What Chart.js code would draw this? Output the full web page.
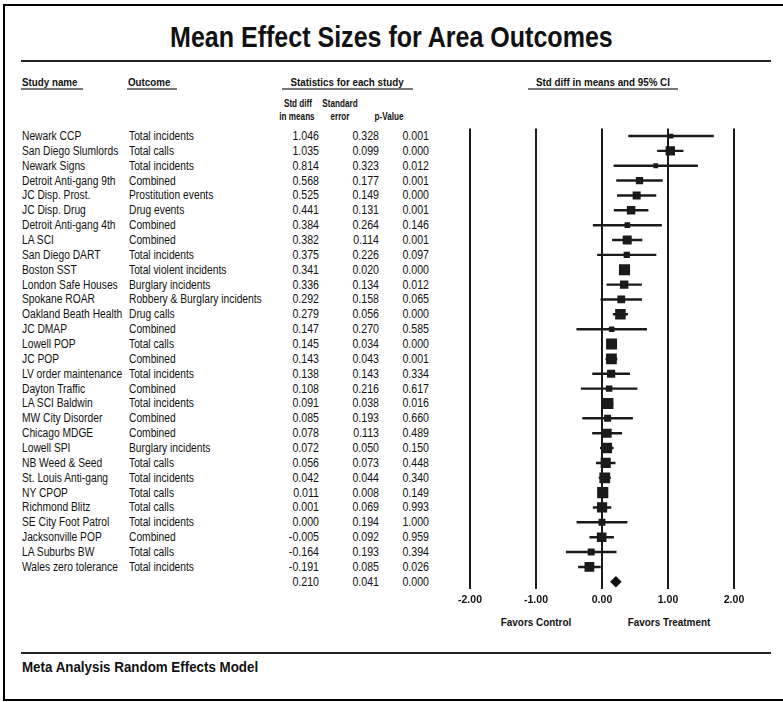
<!DOCTYPE html>
<html>
<head>
<meta charset="utf-8">
<title>Mean Effect Sizes for Area Outcomes</title>
<script src="https://cdn.jsdelivr.net/npm/chart.js@4.4.1/dist/chart.umd.min.js"></script>
<style>
    body { margin: 0; background: #fff; }
    #page {
        position: relative; width: 783px; height: 702px; overflow: hidden;
        font-family: "Liberation Sans Narrow", "Arial Narrow", "Liberation Sans", Arial, sans-serif;
        color: #111;
    }
    #frame {
        position: absolute; left: 3px; top: 4px; width: 820px; height: 697px;
        border: 2px solid #000; box-sizing: border-box;
    }
    .rule { position: absolute; left: 21px; width: 750px; height: 2px; background: #222; }
    .uline { position: absolute; height: 1.5px; background: #777; }
    .txt { position: absolute; white-space: nowrap; line-height: 14px; transform-origin: left center; }
    .hd { font-weight: bold; font-size: 11px; transform: scaleX(0.89); }
    .sub { font-weight: bold; font-size: 11px; text-align: center; width: 60px; transform: scaleX(0.74); transform-origin: center center; }
    .cell { font-size: 12.5px; transform: scaleX(0.82); }
    .num { font-size: 12.5px; text-align: right; width: 50px; transform: scaleX(0.85); transform-origin: right center; }
    .mid { text-align: center; transform-origin: center center; }
    #title {
        position: absolute; left: 0; width: 783px; top: 20px; text-align: center;
        font-size: 30px; font-weight: bold; line-height: 34px;
        transform: scaleX(0.834); transform-origin: 391px center;
    }
    #chart { position: absolute; left: 0; top: 0; }
</style>
</head>
<body>
<div id="page">
    <div id="frame"></div>
    <div id="title">Mean Effect Sizes for Area Outcomes</div>
    <div class="rule" style="top:60px"></div>

    <div class="txt hd" style="left:22px; top:75px">Study name</div>
    <div class="uline" style="left:21px; top:88px; width:62px"></div>
    <div class="txt hd" style="left:128px; top:75px">Outcome</div>
    <div class="uline" style="left:127px; top:88px; width:50px"></div>
    <div class="txt hd mid" style="left:247px; top:75px; width:200px">Statistics for each study</div>
    <div class="uline" style="left:282px; top:88px; width:131px"></div>
    <div class="txt hd mid" style="left:503px; top:75px; width:200px">Std diff in means and 95% CI</div>
    <div class="uline" style="left:528px; top:88px; width:150px"></div>

    <div class="txt sub" style="left:268px; top:96px">Std diff</div>
    <div class="txt sub" style="left:267px; top:109px">in means</div>
    <div class="txt sub" style="left:310px; top:96px">Standard</div>
    <div class="txt sub" style="left:310px; top:109px">error</div>
    <div class="txt sub" style="left:359px; top:109px">p-Value</div>

    <div id="rows"></div>

    <div class="txt mid" style="left:476px; top:615px; width:120px; font-weight:bold; font-size:11px; transform:scaleX(0.9)">Favors Control</div>
    <div class="txt mid" style="left:609px; top:615px; width:120px; font-weight:bold; font-size:11px; transform:scaleX(0.9)">Favors Treatment</div>

    <div class="rule" style="top:652px"></div>
    <div class="txt" style="left:22px; top:658px; font-weight:bold; font-size:15px; line-height:18px; transform:scaleX(0.89)">Meta Analysis Random Effects Model</div>

    <canvas id="chart" width="783" height="702"></canvas>
</div>

<script>
// Dữ liệu từng nghiên cứu
const studies = [
    'Newark CCP', 'San Diego Slumlords', 'Newark Signs', 'Detroit Anti-gang 9th', 'JC Disp. Prost.',
    'JC Disp. Drug', 'Detroit Anti-gang 4th', 'LA SCI', 'San Diego DART', 'Boston SST',
    'London Safe Houses', 'Spokane ROAR', 'Oakland Beath Health', 'JC DMAP', 'Lowell POP',
    'JC POP', 'LV order maintenance', 'Dayton Traffic', 'LA SCI Baldwin', 'MW City Disorder',
    'Chicago MDGE', 'Lowell SPI', 'NB Weed & Seed', 'St. Louis Anti-gang', 'NY CPOP',
    'Richmond Blitz', 'SE City Foot Patrol', 'Jacksonville POP', 'LA Suburbs BW', 'Wales zero tolerance'
];
const outcomes = [
    'Total incidents', 'Total calls', 'Total incidents', 'Combined', 'Prostitution events',
    'Drug events', 'Combined', 'Combined', 'Total incidents', 'Total violent incidents',
    'Burglary incidents', 'Robbery & Burglary incidents', 'Drug calls', 'Combined', 'Total calls',
    'Combined', 'Total incidents', 'Combined', 'Total incidents', 'Combined',
    'Combined', 'Burglary incidents', 'Total calls', 'Total incidents', 'Total calls',
    'Total calls', 'Total incidents', 'Combined', 'Total calls', 'Total incidents'
];
const stdDiff = [
    1.046, 1.035, 0.814, 0.568, 0.525, 0.441, 0.384, 0.382, 0.375, 0.341,
    0.336, 0.292, 0.279, 0.147, 0.145, 0.143, 0.138, 0.108, 0.091, 0.085,
    0.078, 0.072, 0.056, 0.042, 0.011, 0.001, 0.000, -0.005, -0.164, -0.191
];
const stdErr = [
    0.328, 0.099, 0.323, 0.177, 0.149, 0.131, 0.264, 0.114, 0.226, 0.020,
    0.134, 0.158, 0.056, 0.270, 0.034, 0.043, 0.143, 0.216, 0.038, 0.193,
    0.113, 0.050, 0.073, 0.044, 0.008, 0.069, 0.194, 0.092, 0.193, 0.085
];
const pValues = [
    0.001, 0.000, 0.012, 0.001, 0.000, 0.001, 0.146, 0.001, 0.097, 0.000,
    0.012, 0.065, 0.000, 0.585, 0.000, 0.001, 0.334, 0.617, 0.016, 0.660,
    0.489, 0.150, 0.448, 0.340, 0.149, 0.993, 1.000, 0.959, 0.394, 0.026
];
// Kết quả gộp (random effects)
const pooledDiff = 0.210;
const pooledErr = 0.041;
const pooledP = 0.000;

const xTicks = [-2, -1, 0, 1, 2];

const FONT = '"Liberation Sans Narrow", "Arial Narrow", "Liberation Sans", Arial, sans-serif';
const TAU2 = 0.0235; // phương sai giữa các nghiên cứu, dùng cho kích thước ô vuông
const Z = 1.96;

const nRows = studies.length + 1;

// Kích thước ô vuông theo trọng số
function boxSide(se) {
    return 11.2 * Math.sqrt(TAU2 / (se * se + TAU2));
}

const chart = new Chart(document.getElementById('chart'), {
    type: 'scatter',
    data: {
        datasets: [
            {
                type: 'bar',
                indexAxis: 'y',
                data: stdDiff.map((d, i) => ({ x: [d - Z * stdErr[i], d + Z * stdErr[i]], y: i })),
                backgroundColor: '#1a1a1a',
                borderWidth: 0,
                barThickness: 1.8,
            },
            {
                data: stdDiff.map((d, i) => ({ x: d, y: i })),
                pointStyle: 'rect',
                pointRadius: stdErr.map(se => boxSide(se) / (2 * Math.SQRT1_2)),
                backgroundColor: '#1a1a1a',
                borderWidth: 0,
            },
            {
                data: [{ x: pooledDiff, y: studies.length }],
                pointStyle: 'rectRot',
                pointRadius: ctx => {
                    const s = ctx.chart.scales.x;
                    return Math.max(4, (s.getPixelForValue(pooledDiff + Z * pooledErr) - s.getPixelForValue(pooledDiff - Z * pooledErr)) / 2 + 0.5);
                },
                backgroundColor: '#111',
                borderWidth: 0,
            },
        ],
    },
    options: {
        responsive: false,
        animation: false,
        events: [],
        layout: { padding: { left: 453.5, right: 32.5, top: 128.6, bottom: 90.8 } },
        plugins: { legend: { display: false }, tooltip: { enabled: false } },
        scales: {
            x: {
                type: 'linear',
                min: -2.25,
                max: 2.25,
                offset: false,
                border: { display: false },
                grid: { color: '#1a1a1a', lineWidth: 2, drawTicks: false, offset: false },
                afterFit: scale => { scale.height = 22; },
                afterBuildTicks: scale => { scale.ticks = xTicks.map(v => ({ value: v })); },
                ticks: {
                    padding: 5,
                    color: '#111',
                    font: { family: FONT, size: 10.5, weight: 'bold' },
                    callback: v => Number(v).toFixed(2),
                },
            },
            y: {
                type: 'linear', reverse: true, min: -0.5, max: nRows - 0.5,
                offset: false, grid: { offset: false }, display: false,
            },
        },
    },
});

// Đặt các dòng bảng theo trục y của biểu đồ
const rowsDiv = document.getElementById('rows');
function addText(text, cls, left, y) {
    const el = document.createElement('div');
    el.className = 'txt ' + cls;
    el.style.left = left + 'px';
    el.style.top = (y - 7) + 'px';
    el.textContent = text;
    rowsDiv.appendChild(el);
}
const yScale = chart.scales.y;
studies.forEach((name, i) => {
    const y = yScale.getPixelForValue(i);
    addText(name, 'cell', 22, y);
    addText(outcomes[i], 'cell', 129, y);
    addText(stdDiff[i].toFixed(3), 'num', 269, y);
    addText(stdErr[i].toFixed(3), 'num', 329, y);
    addText(pValues[i].toFixed(3), 'num', 379, y);
});
const ySum = yScale.getPixelForValue(studies.length);
addText(pooledDiff.toFixed(3), 'num', 269, ySum);
addText(pooledErr.toFixed(3), 'num', 329, ySum);
addText(pooledP.toFixed(3), 'num', 379, ySum);
</script>
</body>
</html>
